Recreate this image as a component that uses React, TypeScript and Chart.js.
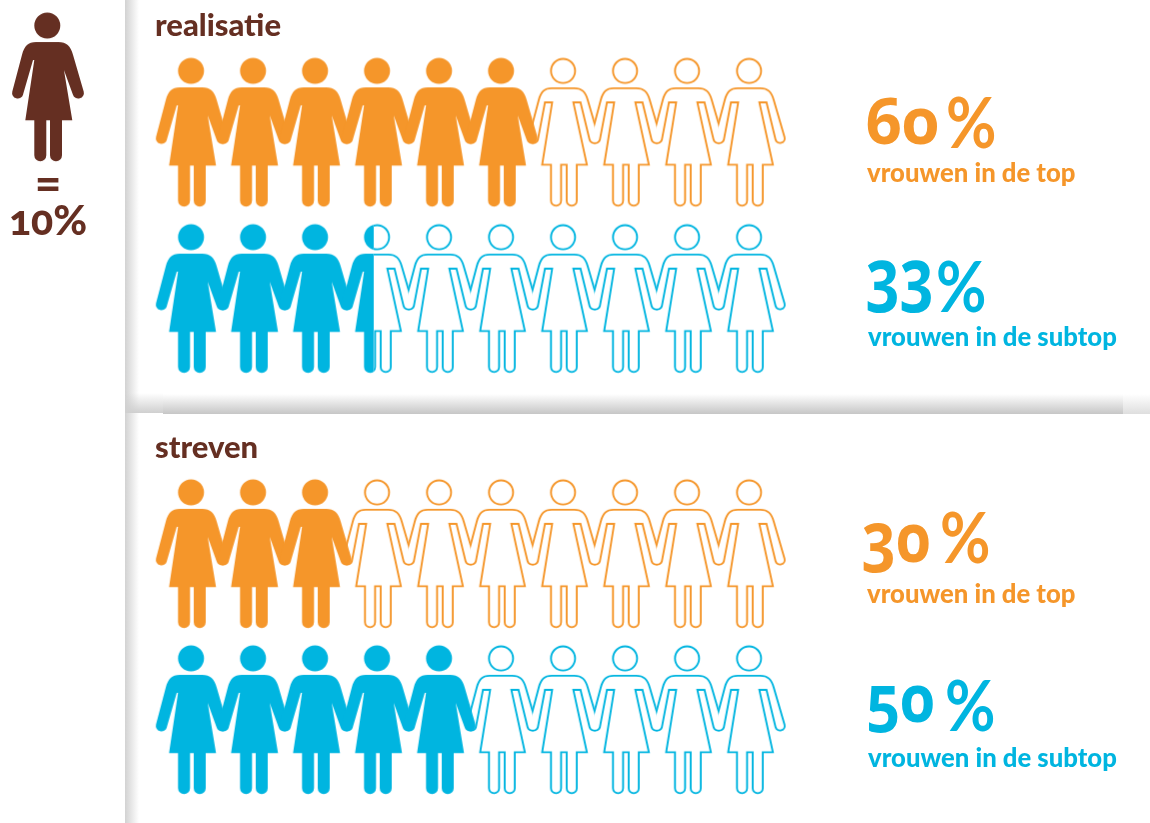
import React, { useEffect, useRef } from "react";
import { Chart, registerables } from "chart.js";

Chart.register(...registerables);

const rowLabels = ["vrouwen in de top", "vrouwen in de subtop", "vrouwen in de top", "vrouwen in de subtop"];
const rowValues = [60, 33, 30, 50];
const rowColors = ["#f5962a", "#00b5e0", "#f5962a", "#00b5e0"];
const sectionTitles = ["realisatie", "streven"];
const keyLabel = "10%";
const unitPerFigure = 10;
const figuresPerRow = 10;

const BROWN = "#652f22";
const W = 1150;
const H = 823;
const COL0 = 191.7;
const COLSTEP = 62;
const FIG_H = 148.7;
const rowTops = [58, 224.3, 479.5, 645.5];
const KEY_X = 48;
const KEY_TOP = 12.7;
const PARTIAL_CLIP_X = -4;

const IMG_W = 80;
const IMG_H = 156;
const OX = IMG_W / 2;
const OY = (IMG_H - FIG_H) / 2;

function figurePath(open: boolean) {
  const p = new Path2D();
  const P = (x: number, y: number): [number, number] => [x + OX, y + OY];
  p.arc(...P(-0.7, 12.9), 13, 0, Math.PI * 2);
  p.closePath();
  const d = Math.PI / 180;
  const top = open ? 45.3 : 47.3;
  p.moveTo(...P(open ? -12.7 : -13.7, top));
  p.lineTo(...P(open ? -18 : -15, top));
  p.lineTo(...P(-24.9, 81.7));
  p.arc(...P(-30.3, 80.3), 5.6, 14.9 * d, 194.9 * d, false);
  p.lineTo(...P(-26, 42));
  p.bezierCurveTo(...P(-23.5, 33), ...P(-20, 29.3), ...P(-12, 29.3));
  p.lineTo(...P(10.5, 29.3));
  p.bezierCurveTo(...P(18.5, 29.3), ...P(22.5, 33), ...P(25, 42));
  p.lineTo(...P(35.7, 78.9));
  p.arc(...P(30.3, 80.3), 5.6, -14.9 * d, 165.1 * d, false);
  p.lineTo(...P(open ? 16 : 12.3, top));
  p.lineTo(...P(open ? 10.8 : 14.3, top));
  p.lineTo(...P(24.3, 107.7));
  p.lineTo(...P(14, 107.7));
  p.lineTo(...P(14, 142.7));
  p.arc(...P(8, 142.7), 6, 0, Math.PI, false);
  p.lineTo(...P(2, 107.7));
  p.lineTo(...P(-1.7, 107.7));
  p.lineTo(...P(-1.7, 142.7));
  p.arc(...P(-7.7, 142.7), 6, 0, Math.PI, false);
  p.lineTo(...P(-13.7, 107.7));
  p.lineTo(...P(-22.7, 107.7));
  p.closePath();
  return p;
}

function makeImage(open: boolean, draw: (c: CanvasRenderingContext2D, path: Path2D) => void) {
  const cv = document.createElement("canvas");
  cv.width = IMG_W;
  cv.height = IMG_H;
  draw(cv.getContext("2d")!, figurePath(open));
  return cv;
}

const solid = (color: string, open = false) => makeImage(open, (c, p) => { c.fillStyle = color; c.fill(p); });

const clipped = (color: string, side: "left" | "right") =>
  makeImage(side === "right", (c, p) => {
    c.beginPath();
    if (side === "left") c.rect(0, 0, OX + PARTIAL_CLIP_X, IMG_H);
    else c.rect(OX + PARTIAL_CLIP_X, 0, IMG_W, IMG_H);
    c.clip();
    c.fillStyle = color;
    c.fill(p);
  });

const eroded = () =>
  makeImage(true, (c, p) => {
    c.fillStyle = "#ffffff";
    c.fill(p);
    c.globalCompositeOperation = "destination-out";
    c.lineWidth = 3.8;
    c.lineJoin = "miter";
    c.stroke(p);
  });

function buildDatasets() {
  const white = eroded();
  const sets: any[] = [];
  const base = { showLine: false, pointRadius: 12, clip: false as const };
  rowValues.forEach((value, r) => {
    const color = rowColors[r];
    const y = rowTops[r] + FIG_H / 2;
    const full = Math.floor(value / unitPerFigure);
    const hasPartial = value % unitPerFigure > 0;
    const filled: { x: number; y: number }[] = [];
    const outlined: { x: number; y: number }[] = [];
    for (let i = 0; i < figuresPerRow; i++) (i < full ? filled : outlined).push({ x: i, y });
    const outlineStyles = outlined.map((_, i) => (hasPartial && i === 0 ? clipped(color, "right") : solid(color, true)));
    sets.push({ ...base, label: rowLabels[r] + " open", data: outlined, pointStyle: outlineStyles, order: 3 });
    sets.push({ ...base, label: rowLabels[r] + " open binnen", data: outlined, pointStyle: white, order: 2 });
    sets.push({ ...base, label: rowLabels[r], data: filled, pointStyle: solid(color), order: 1 });
    if (hasPartial)
      sets.push({ ...base, label: rowLabels[r] + " deel", data: [{ x: full, y }], pointStyle: clipped(color, "left"), order: 0 });
  });
  sets.push({
    ...base,
    label: "= " + keyLabel,
    data: [{ x: (KEY_X - COL0) / COLSTEP, y: KEY_TOP + FIG_H / 2 }],
    pointStyle: solid(BROWN),
    order: 0,
  });
  return sets;
}

const txt = (x: number, y: number, size: number, color: string, weight = 700, extra: React.CSSProperties = {}): React.CSSProperties => ({
  position: "absolute",
  left: x,
  top: y,
  fontFamily: "Lato, sans-serif",
  fontSize: size,
  fontWeight: weight,
  color,
  lineHeight: 1,
  whiteSpace: "nowrap",
  ...extra,
});

const band = (x: number, w: number, bottom: number, end: string): React.CSSProperties => ({
  position: "absolute",
  left: x,
  width: w,
  top: bottom - 20,
  height: 20,
  background: `linear-gradient(to bottom, rgba(255,255,255,0), ${end})`,
});

const big: React.CSSProperties = { fontVariantNumeric: "oldstyle-nums", fontFeatureSettings: '"onum"' };
const open: React.CSSProperties = { fontFamily: "'Open Sans', sans-serif", transformOrigin: "left top" };

const digitLefts = [865, 866, 862, 866];
const digitTops = [88, 237, 501.6, 663];
const digitSizes = [64, 72, 68, 66];
const digitScales = [1, 0.82, 0.87, 0.9];
const percentLefts = [946, 936, 940, 945];
const percentTops = [86, 250, 501, 669];
const subTops = [160, 324, 581, 745];
const subLefts = [867, 868, 867, 868];

export default function App() {
  const ref = useRef<HTMLCanvasElement>(null);
  useEffect(() => {
    const chart = new Chart(ref.current!, {
      type: "scatter",
      data: { datasets: buildDatasets() },
      options: {
        animation: false,
        responsive: false,
        events: [],
        layout: { padding: 0, autoPadding: false },
        plugins: { legend: { display: false }, tooltip: { enabled: false } },
        scales: {
          x: { type: "linear", display: false, min: -COL0 / COLSTEP, max: (W - COL0) / COLSTEP },
          y: { type: "linear", display: false, min: 0, max: H, reverse: true },
        },
      },
    });
    return () => chart.destroy();
  }, []);
  return (
    <div style={{ position: "absolute", left: 0, top: 0, width: W, height: H, overflow: "hidden", background: "#fff" }}>
      <div style={{ position: "absolute", left: 125, top: 0, width: 14, height: H, background: "linear-gradient(to right, #d2d2d2, rgba(255,255,255,0))" }} />
      <div style={band(125, 38, 413, "#cfcfcf")} />
      <div style={band(163, 960, 414, "#c6c6c6")} />
      <div style={band(1123, 27, 414, "#dedede")} />
      <canvas ref={ref} width={W} height={H} style={{ position: "absolute", left: 0, top: 0 }} />
      <div style={txt(155, 9, 31, BROWN, 900)}>{sectionTitles[0]}</div>
      <div style={txt(155, 431, 31, BROWN, 900)}>{sectionTitles[1]}</div>
      <div style={txt(0, 160, 46, BROWN, 900, { width: 96, textAlign: "center" })}>=</div>
      <div style={txt(0, 199, 41, BROWN, 900, { width: 96, textAlign: "center", ...big })}>{keyLabel}</div>
      {rowValues.map((v, i) => (
        <React.Fragment key={i}>
          <div>
            <span style={txt(digitLefts[i], digitTops[i], digitSizes[i], rowColors[i], 700, { ...big, ...open, transform: `scaleX(${digitScales[i]})` })}>{v}</span>
            <span style={txt(percentLefts[i], percentTops[i], 70, rowColors[i], 700, { transform: "scaleX(0.88)", transformOrigin: "left top" })}>%</span>
          </div>
          <div style={txt(subLefts[i], subTops[i], 25.7, rowColors[i], 900)}>{rowLabels[i]}</div>
        </React.Fragment>
      ))}
    </div>
  );
}
